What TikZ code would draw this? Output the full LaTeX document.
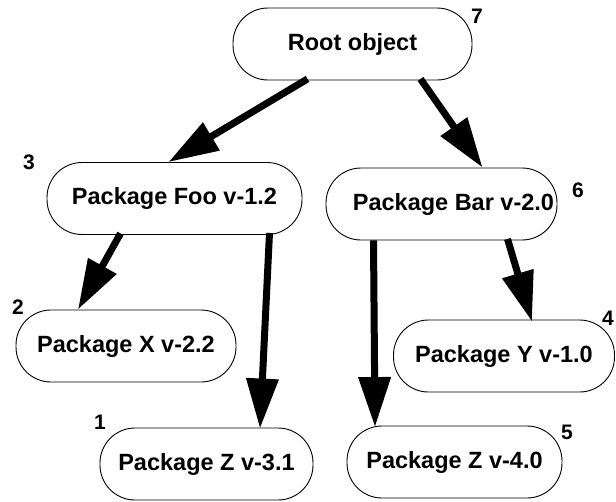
\documentclass[tikz,border=0pt]{standalone}
\usepackage{fontspec}
\setmainfont{Liberation Sans}
\usetikzlibrary{arrows.meta}
\begin{document}
\begin{tikzpicture}[x=1pt,y=-1pt,
  pkg/.style={draw, line width=0.9pt, rounded corners=35pt, minimum height=72pt,
    inner sep=0pt, font=\fontsize{23.5}{28}\selectfont\bfseries},
  num/.style={inner sep=0pt, font=\fontsize{21}{25}\selectfont\bfseries},
  dep/.style={line width=7pt, -{Triangle[length=50pt,width=31pt]}}]
\useasboundingbox (0,0) rectangle (616,501);

% packages
\node[pkg, minimum width=239pt] (root) at (352.5,44) {Root object};
\node[pkg, minimum width=255pt] (foo)  at (174.5,198.5) {Package Foo v-1.2};
\node[pkg, minimum width=231pt] (bar)  at (441.5,204) {\hspace{24pt}Package Bar v-2.0};
\node[pkg, minimum width=220pt] (pkx)  at (126,346) {Package X v-2.2};
\node[pkg, minimum width=213pt] (z31)  at (206.5,464) {Package Z v-3.1};
\node[pkg, minimum width=221pt] (pky)  at (504,356) {Package Y v-1.0};
\node[pkg, minimum width=215pt] (z40)  at (454.5,462) {Package Z v-4.0};

% order numbers
\node[num] (n7) at (477,16)  {7};
\node[num] (n3) at (29,162)  {3};
\node[num] (n6) at (578,190) {6};
\node[num] (n2) at (18,307)  {2};
\node[num] (n1) at (100,422) {1};
\node[num] (n5) at (567,432) {5};
\node[num] (n4) at (608,318) {4};

% dependencies
\draw[dep] ([xshift=-45pt,yshift=1.5pt]root.south) -- ([xshift=-6pt]foo.north);
\draw[dep] ([xshift=68pt,yshift=1.5pt]root.south) -- ([xshift=41pt]bar.north);
\draw[dep] ([xshift=-54pt,yshift=1.5pt]foo.south) -- ([xshift=-48pt]pkx.north);
\draw[dep] ([xshift=95pt,yshift=2pt]foo.south) -- ([xshift=53.5pt,yshift=-1pt]z31.north);
\draw[dep] ([xshift=-68pt,yshift=0pt]bar.south) -- ([xshift=-79.5pt,yshift=-1.5pt]z40.north);
\draw[dep] ([xshift=66pt,yshift=1.5pt]bar.south) -- ([xshift=28pt,yshift=-2pt]pky.north);
\end{tikzpicture}
\end{document}
